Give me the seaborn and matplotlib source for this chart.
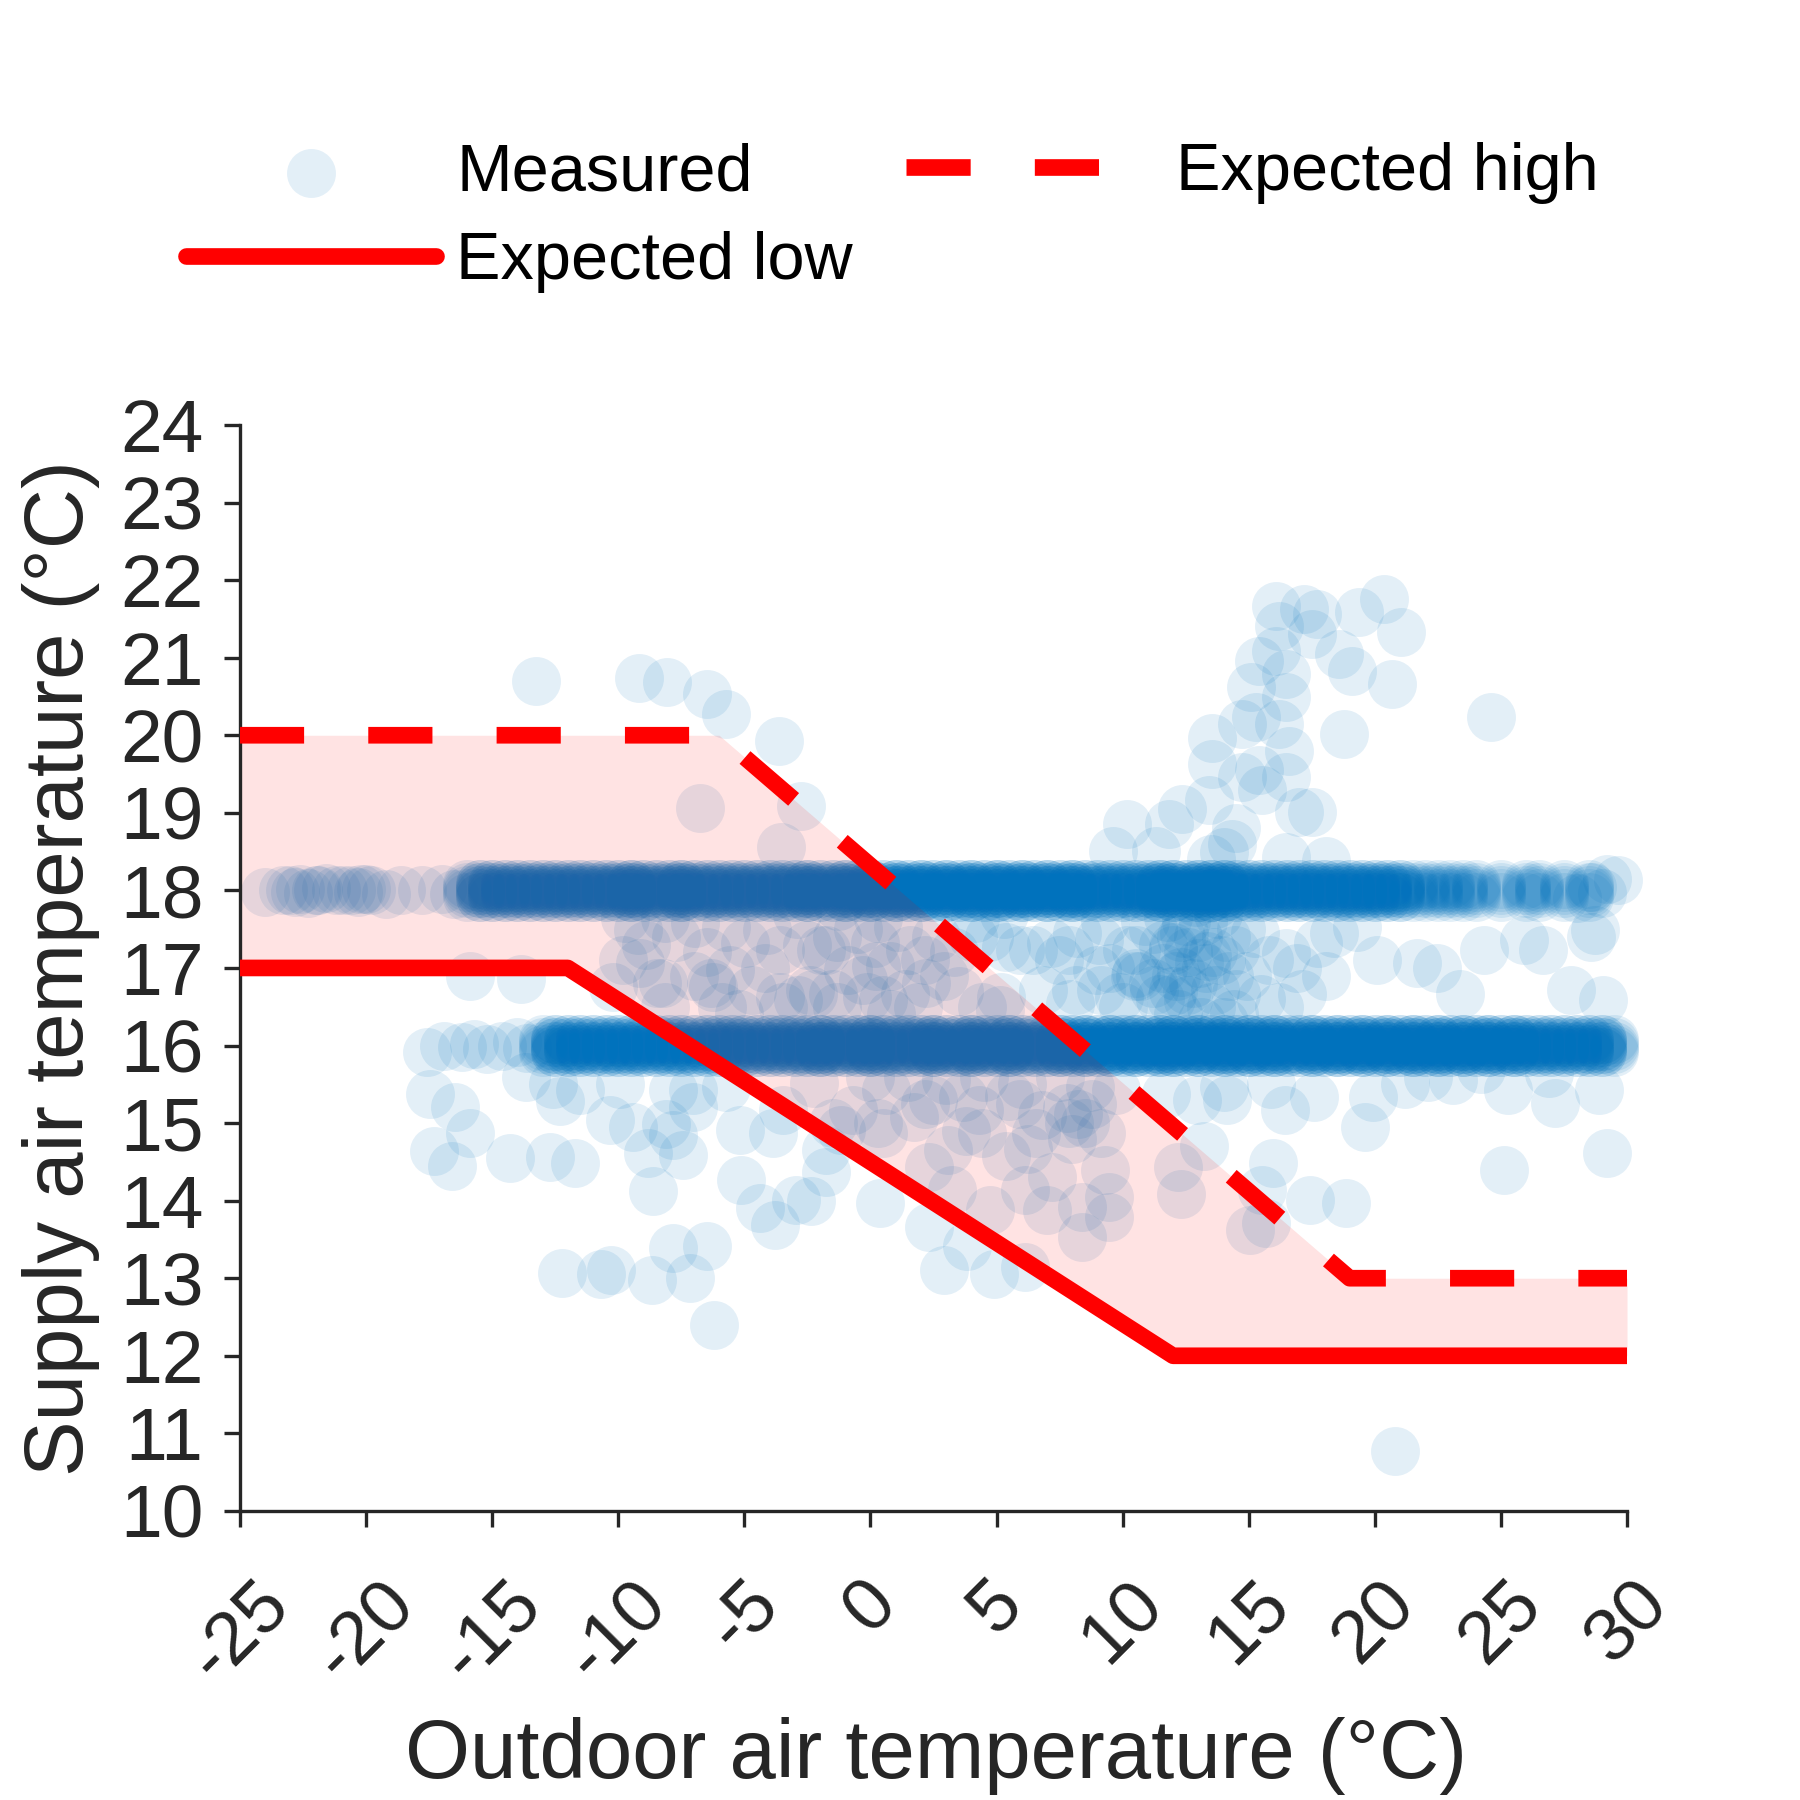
import numpy as np
import matplotlib
matplotlib.use("Agg")
import matplotlib.pyplot as plt
import seaborn as sns

# expected supply temperature curves (outdoor temp -> supply temp)
high_x = [-25, -6, 19, 30]
high_y = [20, 20, 13, 13]
low_x = [-25, -12, 12, 30]
low_y = [17, 17, 12, 12]

# the two setpoint bands: positions along x and how many readings sit there (per level)
hi_band_x = [-16.0, -15.5, -15.0, -14.5, -14.0, -13.5, -13.0, -12.5, -12.0, -11.5,
             -11.0, -10.5, -10.0, -9.5, -9.0, -8.5, -8.0, -7.5, -7.0, -6.5,
             -6.0, -5.5, -5.0, -4.5, -4.0, -3.5, -3.0, -2.5, -2.0, -1.5,
             -1.0, -0.5, 0.0, 0.5, 1.0, 1.5, 2.0, 2.5, 3.0, 3.5,
             4.0, 4.5, 5.0, 5.5, 6.0, 6.5, 7.0, 7.5, 8.0, 8.5,
             9.0, 9.5, 10.0, 10.5, 11.0, 11.5, 12.0, 12.5, 13.0, 13.5,
             14.0, 14.5, 15.0, 15.5, 16.0, 16.5, 17.0, 17.5, 18.0, 18.5,
             19.0, 19.5, 20.0, 20.5, 21.0, 21.5, 22.0, 22.5, 23.0, 23.5,
             24.0, 24.5, 25.0, 25.5, 26.0, 26.5, 27.0, 27.5, 28.0, 28.5]
hi_band_n = [1, 2, 2, 2, 2, 2, 2, 2, 2, 2,
             2, 2, 2, 3, 2, 2, 2, 3, 2, 2,
             2, 2, 2, 2, 2, 2, 2, 3, 2, 2,
             3, 2, 3, 2, 3, 2, 3, 2, 3, 2,
             3, 2, 3, 2, 3, 2, 3, 2, 3, 2,
             2, 2, 2, 2, 2, 3, 3, 2, 3, 3,
             3, 2, 2, 2, 2, 2, 2, 2, 2, 2,
             2, 2, 2, 2, 2, 1, 1, 1, 1, 1,
             1, 0, 1, 0, 1, 1, 0, 1, 0, 1]
hi_band_levels = [17.92, 17.96, 18.0, 18.04, 18.08]

lo_band_x = [-13.0, -12.5, -12.0, -11.5, -11.0, -10.5, -10.0, -9.5, -9.0, -8.5,
             -8.0, -7.5, -7.0, -6.5, -6.0, -5.5, -5.0, -4.5, -4.0, -3.5,
             -3.0, -2.5, -2.0, -1.5, -1.0, -0.5, 0.0, 0.5, 1.0, 1.5,
             2.0, 2.5, 3.0, 3.5, 4.0, 4.5, 5.0, 5.5, 6.0, 6.5,
             7.0, 7.5, 8.0, 8.5, 9.0, 9.5, 10.0, 10.5, 11.0, 11.5,
             12.0, 12.5, 13.0, 13.5, 14.0, 14.5, 15.0, 15.5, 16.0, 16.5,
             17.0, 17.5, 18.0, 18.5, 19.0, 19.5, 20.0, 20.5, 21.0, 21.5,
             22.0, 22.5, 23.0, 23.5, 24.0, 24.5, 25.0, 25.5, 26.0, 26.5,
             27.0, 27.5, 28.0, 28.5, 29.0, 29.5]
lo_band_n = [1, 2, 2, 2, 2, 2, 2, 2, 2, 2,
             2, 2, 2, 2, 2, 2, 2, 2, 2, 2,
             2, 2, 3, 2, 2, 2, 3, 2, 2, 2,
             2, 3, 2, 2, 3, 2, 2, 3, 2, 2,
             2, 3, 2, 3, 2, 3, 2, 3, 2, 3,
             3, 2, 3, 2, 3, 2, 3, 2, 3, 2,
             2, 3, 2, 3, 2, 3, 2, 3, 2, 3,
             2, 3, 2, 3, 2, 3, 2, 3, 2, 2,
             2, 2, 2, 2, 2, 1]
lo_band_levels = [15.92, 15.96, 16.0, 16.04, 16.08]

# thin ends of the bands
tail_x = [-24.0, -23.3, -23.0, -22.8, -22.6, -22.3, -22.0, -21.9, -21.6, -21.2, -20.9, -20.6,
          -20.3, -20.2, -20.0, -19.8, -19.2, -18.6, -17.8, -17.0, -16.5, 28.0, 28.6, 29.0,
          -17.6, -16.9, -16.2, -15.7, -15.2, -14.6, -14.0, -13.6]
tail_y = [17.98, 18.0, 18.0, 17.98, 18.02, 17.97, 18.0, 18.01, 18.03, 18.0, 18.0, 18.0,
          17.98, 18.02, 18.02, 18.0, 17.95, 18.0, 18.0, 18.02, 17.95, 17.9, 18.05, 17.97,
          15.92, 16.0, 15.98, 16.02, 15.95, 16.0, 16.04, 15.97]

# readings above the 18 band
top_x = [16.07, 17.19, 17.72, 16.2, 19.37, 20.36, 21.02, 17.52, 16.07, 15.41, 18.58, 19.11,
         20.7, 16.47, 15.08, 16.47, 15.28, 16.2, 13.56, 14.75, 16.6, 13.56, 14.75, 15.41,
         16.47, 15.54, 18.78, 24.59, 17.0, 17.52, 12.37, 10.19, 13.43, 11.84, 14.49, 14.35,
         11.32, 9.6, 18.05, 13.5, 14.0, 16.49, -13.26, -9.19, -8.08, -6.5, -5.74, -3.64,
         -2.75, -6.75, -3.55, 29.66, 29.2]
top_y = [21.67, 21.63, 21.56, 21.41, 21.59, 21.76, 21.33, 21.31, 21.09, 20.96, 21.05, 20.83,
         20.66, 20.79, 20.62, 20.49, 20.23, 20.15, 19.97, 20.15, 19.8, 19.63, 19.46, 19.55,
         19.46, 19.29, 20.02, 20.23, 19.01, 19.01, 19.05, 18.86, 19.16, 18.86, 18.81, 18.6,
         18.51, 18.51, 18.38, 18.4, 18.5, 18.43, 20.7, 20.74, 20.69, 20.53, 20.28, 19.92,
         19.09, 19.06, 18.56, 18.13, 18.15]

# readings between the two bands
mid_x = [-9.83, -8.47, -7.71, -6.34, -4.98, -4.68, -3.6, -2.86, -1.95, -1.34, -0.89, 0.18,
         0.78, 1.39, 2.15, 2.9, -6.95, -9.22, -5.74, -2.4, -0.13, 1.08, 4.42, 5.18,
         -1.34, -3.46, -8.16, -5.89, 4.72, 5.93, 7.15, 8.2, 8.97, 10.48, 11.24, 10.18,
         6.84, 7.9, 12.0, 12.6, 7.87, 9.13, 10.69, 10.54, 12.42, 13.36, 13.67, 12.57,
         14.93, 15.24, 16.49, 17.75, 18.06, 17.12, 20.1, 21.66, 22.45, 23.39, 24.33, 25.9,
         26.68, 28.56, 28.72, 27.78, 29.03, 18.37, 19.31, 14.45, 11.79, 13.67, -1.75, 0.23,
         1.55, 2.21, 0.49, -1.49, 5.12, 5.38, 6.44, 7.49, 8.15, 9.08, 10.53, 11.2,
         11.99, 13.04, 14.1, 14.5, 9.87, 4.06, -15.88, -13.84, -10.2, -8.22, -6.24, -3.6,
         -2.28, -0.3, -5.58, -9.15, 12.5, 13.0, 13.3, 12.8, 13.5, 12.2, 13.8, 12.6,
         13.1, 11.5, 11.6, 12.1, 11.2, 14.2, 14.0, 12.9, 13.4, 12.3, 13.6, 11.9,
         -9.75, -8.15, -2.9, -1.3, 0.3, 4.15, 5.3, -4.1, -7.0, -4.2, -2.5, 0.8,
         2.6, 3.5, -0.5, -5.2, -8.9, -6.5, 1.9, 3.3, 9.5, 10.0, 11.6, 12.3,
         13.9, 14.7, 15.5, 15.8, 16.9, 9.3, 10.9, 14.4, 12.0, 13.2, 16.2]
mid_y = [17.1, 16.8, 17.4, 16.8, 17.32, 16.72, 17.23, 16.59, 17.23, 17.4, 16.97, 17.32,
         17.02, 16.67, 17.1, 16.89, 17.58, 17.49, 17.53, 16.72, 16.63, 17.53, 16.5, 16.63,
         16.5, 16.5, 16.5, 16.5, 17.4, 17.23, 17.32, 17.45, 16.97, 16.89, 16.72, 17.23,
         16.72, 16.54, 17.23, 16.59, 17.23, 16.72, 16.89, 17.23, 17.45, 17.15, 16.72, 16.72,
         16.89, 17.45, 17.19, 17.32, 16.89, 16.67, 17.1, 17.06, 17.0, 16.67, 17.23, 17.36,
         17.23, 17.4, 17.49, 16.72, 16.59, 17.45, 17.53, 17.23, 17.66, 17.83, 17.23, 17.02,
         17.23, 16.8, 16.59, 16.67, 16.46, 17.27, 17.23, 17.1, 16.72, 17.36, 16.93, 16.8,
         17.27, 17.06, 17.4, 16.67, 16.63, 17.4, 16.89, 16.86, 16.76, 16.8, 16.76, 16.63,
         16.67, 16.84, 16.97, 17.06, 17.6, 17.4, 17.0, 16.8, 16.5, 16.4, 17.7, 17.2,
         16.3, 16.6, 17.3, 16.9, 17.5, 16.9, 16.3, 17.85, 17.9, 17.4, 17.2, 16.6,
         17.65, 17.65, 17.7, 17.8, 17.65, 17.65, 17.7, 17.49, 16.9, 17.0, 17.3, 16.4,
         17.4, 16.7, 17.5, 16.4, 17.3, 17.2, 16.5, 17.2, 17.0, 16.5, 17.0, 16.95,
         17.1, 17.5, 16.6, 17.1, 17.0, 17.6, 17.6, 16.4, 16.7, 17.6, 16.5]

# readings below the 16 band
low_pt_x = [-17.47, -16.48, -15.86, -17.3, -16.6, -14.3, -12.69, -11.72, -12.32, -10.33, -9.41, -8.09,
            -8.82, -7.43, -8.64, -5.12, -4.39, -3.8, -2.94, -1.75, 0.37, -12.21, -10.7, -10.27,
            -8.68, -7.83, -7.16, -6.48, -6.21, -7.83, -5.18, -3.86, -3.47, -1.75, -1.16, -7.03,
            -5.71, -13.64, -12.58, -11.52, -9.94, -7.83, -7.03, -2.37, 2.33, 2.93, 3.84, 4.9,
            6.12, 3.24, 4.75, 7.02, 8.39, 9.45, 9.3, 12.18, 12.33, 13.24, 15.06, 15.67,
            15.52, 14.15, 12.94, 15.97, 16.42, 11.72, 14.0, -0.71, 0.51, 1.72, 3.08, 4.3,
            5.36, 6.57, 8.24, 9.15, 8.7, 7.18, 8.39, 6.12, 2.33, -2.25, 0.63, 2.15,
            3.66, 5.93, 9.72, 4.42, 6.24, 15.87, 17.59, 19.63, 19.94, 23.08, 25.27, 27.15,
            25.11, 29.19, 17.43, 18.84, 9.44, 7.87, 21.19, 28.87, 20.8, 22.1, 24.2, 26.9,
            7.8, 8.5, 8.0, 8.8, 0.0, 1.5, 3.0, 4.5, 6.0, 7.5, 2.5, 5.5,
            6.8, 0.3, -1.5, 3.8]
low_pt_y = [15.38, 15.21, 14.87, 14.64, 14.45, 14.55, 14.56, 14.49, 15.28, 15.04, 14.95, 14.99,
            14.61, 14.59, 14.13, 14.27, 13.9, 13.69, 14.01, 14.37, 13.97, 13.07, 13.06, 13.11,
            12.98, 13.39, 13.0, 13.41, 12.4, 14.85, 14.91, 14.87, 15.17, 14.65, 14.91, 15.43,
            15.47, 15.6, 15.51, 15.43, 15.51, 15.43, 15.21, 14.0, 13.66, 13.1, 13.41, 13.06,
            13.15, 14.14, 13.88, 13.88, 13.53, 14.05, 14.39, 14.44, 14.09, 14.7, 13.62, 13.71,
            14.14, 15.3, 15.3, 14.48, 15.17, 15.38, 15.47, 15.17, 14.87, 15.08, 14.65, 15.17,
            14.57, 14.87, 15.12, 14.87, 15.47, 14.31, 13.92, 14.14, 14.44, 15.52, 15.43, 15.25,
            15.34, 15.25, 15.43, 14.87, 14.66, 15.51, 15.34, 14.95, 15.34, 15.56, 15.43, 15.26,
            14.4, 14.61, 14.01, 13.97, 13.79, 15.0, 15.51, 15.43, 10.77, 15.6, 15.7, 15.65,
            15.2, 15.0, 14.8, 15.25, 15.6, 15.6, 15.55, 15.6, 15.5, 15.6, 15.3, 15.35,
            15.1, 15.0, 15.0, 14.9]

TEXT = "#262626"
BLUE = "#0072BD"

sns.set_theme(style="ticks")
plt.rcParams["font.family"] = ["Liberation Sans", "DejaVu Sans"]
plt.rcParams["axes.unicode_minus"] = False

# expand band positions into individual readings (one copy per level)
hx = np.repeat(hi_band_x, hi_band_n)
lx = np.repeat(lo_band_x, lo_band_n)
meas_x = np.concatenate([np.tile(hx, len(hi_band_levels)), np.tile(lx, len(lo_band_levels)),
                         tail_x, top_x, mid_x, low_pt_x])
meas_y = np.concatenate([np.repeat(hi_band_levels, len(hx)), np.repeat(lo_band_levels, len(lx)),
                         tail_y, top_y, mid_y, low_pt_y])
df = {"outdoor": meas_x, "supply": meas_y}

fig = plt.figure(figsize=(6, 6), dpi=300)
ax = fig.add_axes([0.1333, 0.1606, 0.7706, 0.6033])

sns.scatterplot(data=df, x="outdoor", y="supply", s=138, color=BLUE, alpha=0.11,
                linewidth=0, ax=ax, label="Measured", legend=False, clip_on=False, zorder=1)

band_x = np.union1d(high_x, low_x)
ax.fill_between(band_x, np.interp(band_x, low_x, low_y), np.interp(band_x, high_x, high_y),
                color="red", alpha=0.11, linewidth=0, zorder=2)

sns.lineplot(x=low_x, y=low_y, color="#FF0000", linewidth=4, ax=ax, label="Expected low",
             legend=False, estimator=None, sort=False, zorder=3)
sns.lineplot(x=high_x, y=high_y, color="#FF0000", linewidth=4, ax=ax, label="Expected high",
             legend=False, estimator=None, sort=False, zorder=3,
             linestyle=(0, (3.85, 3.85)))

ax.set_xlim(-25, 30)
ax.set_ylim(10, 24)
ax.set_xticks(range(-25, 31, 5))
ax.set_yticks(range(10, 25))
plt.setp(ax.get_xticklabels(), rotation=45)
ax.tick_params(axis="both", direction="out", length=3.8, width=0.8, color=TEXT,
               labelsize=18, labelcolor=TEXT)
ax.tick_params(axis="x", pad=10)
ax.tick_params(axis="y", pad=5)
sns.despine(ax=ax)
for side in ["left", "bottom"]:
    ax.spines[side].set_linewidth(0.8)
    ax.spines[side].set_color(TEXT)

ax.set_xlabel("Outdoor air temperature (°C)", fontsize=20, color=TEXT)
ax.set_ylabel("Supply air temperature (°C)", fontsize=20, color=TEXT)
ax.xaxis.set_label_coords(0.502, -0.19)
ax.yaxis.set_label_coords(-0.101, 0.5)

handles, labels = ax.get_legend_handles_labels()
lookup = dict(zip(labels, handles))
order = ["Measured", "Expected low", "Expected high"]
fig.legend([lookup[k] for k in order], order, loc="center", bbox_to_anchor=(0.496, 0.879),
           ncol=2, frameon=False, fontsize=16, handlelength=3.75, handletextpad=0.3,
           columnspacing=0.8, labelspacing=0.4, borderpad=0, scatterpoints=1,
           labelcolor="black")

fig.savefig("out.png", dpi=300)
